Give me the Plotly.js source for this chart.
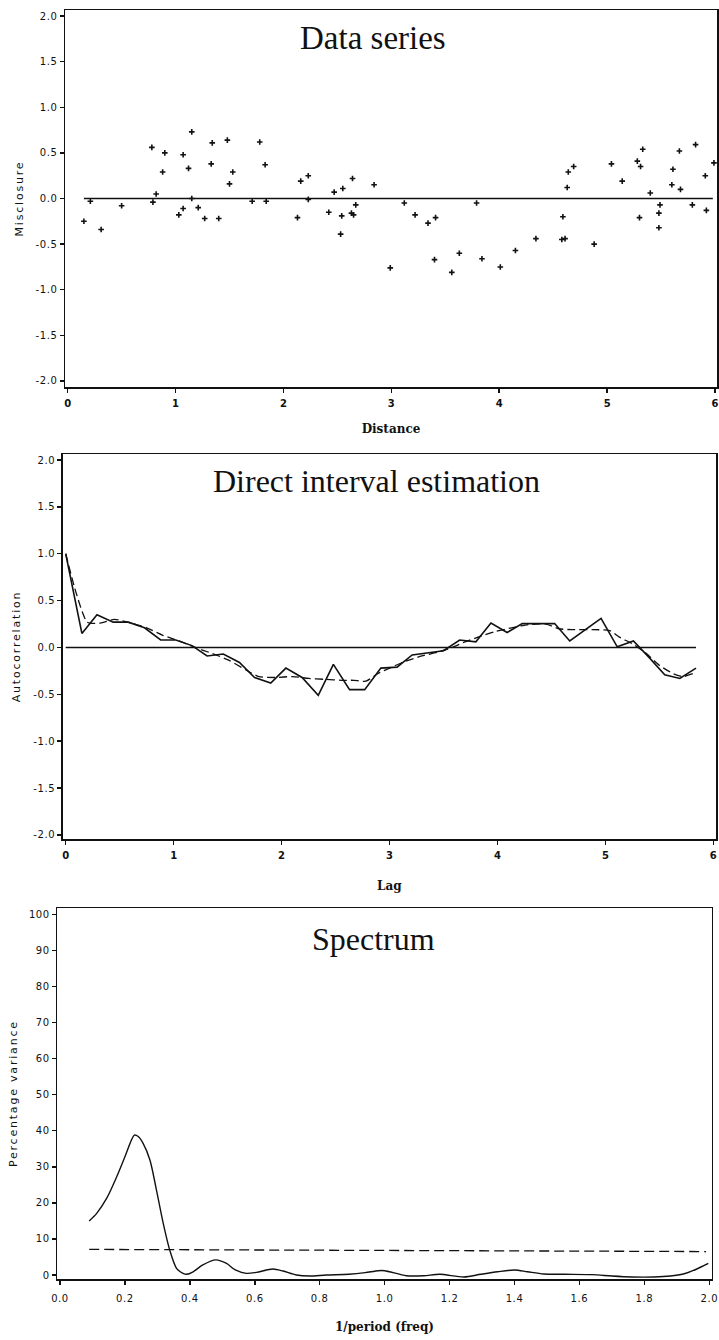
<!DOCTYPE html>
<html>
<head>
<meta charset="utf-8">
<script src="https://cdn.plot.ly/plotly-3.0.1.min.js"></script>
<style>
  html, body { margin: 0; padding: 0; background: #fff; }
  #chart { width: 719px; height: 1340px; }
  text.ytitle, text.y2title, text.y3title { letter-spacing: 1.8px; }
  .ytick text, .y2tick text, .y3tick text, .x3tick text { letter-spacing: 0.6px; }
</style>
</head>
<body>
<div id="chart"></div>
<script>
// ---------- Panel 1: Data series ----------
const distance = [0.15,0.21,0.31,0.50,0.78,0.79,0.82,0.88,0.90,1.03,1.07,1.07,1.12,1.15,1.15,1.21,1.27,1.33,1.34,1.40,1.48,1.50,1.53,1.71,1.78,1.83,1.84,2.13,2.16,2.23,2.23,2.42,2.47,2.53,2.54,2.55,2.63,2.64,2.65,2.67,2.84,2.99,3.12,3.22,3.34,3.40,3.41,3.56,3.63,3.79,3.84,4.01,4.15,4.34,4.58,4.59,4.61,4.63,4.64,4.69,4.88,5.04,5.14,5.28,5.30,5.31,5.33,5.40,5.48,5.48,5.49,5.60,5.61,5.67,5.68,5.79,5.82,5.91,5.92,5.99];
const misclosure = [-0.25,-0.03,-0.34,-0.08,0.56,-0.04,0.05,0.29,0.50,-0.18,-0.11,0.48,0.33,0.73,0.00,-0.10,-0.22,0.38,0.61,-0.22,0.64,0.16,0.29,-0.03,0.62,0.37,-0.03,-0.21,0.19,0.25,-0.01,-0.15,0.07,-0.39,-0.19,0.11,-0.16,0.22,-0.18,-0.07,0.15,-0.76,-0.05,-0.18,-0.27,-0.67,-0.21,-0.81,-0.60,-0.05,-0.66,-0.75,-0.57,-0.44,-0.45,-0.20,-0.44,0.12,0.29,0.35,-0.50,0.38,0.19,0.41,-0.21,0.35,0.54,0.06,-0.16,-0.32,-0.07,0.15,0.32,0.52,0.10,-0.07,0.59,0.25,-0.13,0.39];
const dataZeroX = [0.15, 5.98];
const dataZeroY = [0, 0];

// ---------- Panel 2: Direct interval estimation ----------
const lag = [0,0.15,0.29,0.44,0.58,0.73,0.88,1.02,1.17,1.31,1.46,1.61,1.75,1.90,2.04,2.19,2.34,2.48,2.63,2.77,2.92,3.07,3.21,3.36,3.50,3.65,3.80,3.94,4.09,4.23,4.38,4.53,4.67,4.82,4.96,5.11,5.26,5.40,5.55,5.69,5.84];
const autocorr = [1.0,0.15,0.35,0.27,0.27,0.21,0.08,0.08,0.02,-0.09,-0.07,-0.16,-0.32,-0.38,-0.22,-0.32,-0.51,-0.18,-0.45,-0.45,-0.22,-0.21,-0.08,-0.06,-0.035,0.08,0.06,0.26,0.16,0.255,0.255,0.255,0.07,0.19,0.31,0.007,0.07,-0.10,-0.29,-0.33,-0.22];
const fitLag = [0,0.10,0.20,0.32,0.45,0.61,0.75,0.90,1.05,1.20,1.36,1.51,1.67,1.79,1.94,2.10,2.25,2.40,2.56,2.67,2.78,2.89,3.02,3.14,3.30,3.45,3.58,3.70,3.82,3.98,4.13,4.29,4.45,4.57,4.69,4.88,5.04,5.13,5.25,5.38,5.50,5.63,5.72,5.81];
const fitAutocorr = [1.0,0.57,0.27,0.26,0.30,0.26,0.21,0.13,0.07,0.0,-0.065,-0.135,-0.24,-0.31,-0.32,-0.31,-0.33,-0.34,-0.35,-0.35,-0.36,-0.28,-0.21,-0.15,-0.09,-0.05,0.0,0.06,0.11,0.17,0.21,0.245,0.25,0.20,0.19,0.19,0.18,0.11,0.04,-0.065,-0.19,-0.28,-0.31,-0.28];
const lagZeroX = [0, 5.84];
const lagZeroY = [0, 0];

// ---------- Panel 3: Spectrum ----------
const freq = [0.09,0.113,0.144,0.174,0.20,0.22,0.229,0.241,0.256,0.277,0.297,0.318,0.338,0.359,0.379,0.39,0.41,0.44,0.48,0.513,0.54,0.574,0.605,0.656,0.687,0.728,0.77,0.82,0.89,0.94,0.98,1.0,1.067,1.12,1.17,1.244,1.296,1.348,1.40,1.44,1.49,1.555,1.64,1.70,1.76,1.83,1.88,1.92,1.96,1.997];
const pctVariance = [15.0,17.1,21.3,27.1,32.8,37.4,38.8,38.4,36.5,31.9,23.6,14.3,6.9,1.85,0.46,0.2,0.9,2.8,4.2,3.2,1.4,0.46,0.74,1.66,1.1,0,-0.28,0,0.2,0.65,1.2,1.2,-0.2,-0.2,0.2,-0.55,0.2,0.9,1.4,0.9,0.28,0.2,0.1,-0.28,-0.55,-0.55,-0.28,0.28,1.6,3.2];
const refFreq = [0.09, 1.99];
const refPct = [7.1, 6.5];

// ---------- Tick labels ----------
const yTickVals = [-2,-1.5,-1,-0.5,0,0.5,1,1.5,2];
const yTickText = ["-2.0","-1.5","-1.0","-0.5","0.0","0.5","1.0","1.5","2.0"];
const xTickVals = [0,1,2,3,4,5,6];
const fTickVals = [0,0.2,0.4,0.6,0.8,1.0,1.2,1.4,1.6,1.8,2.0];
const fTickText = ["0.0","0.2","0.4","0.6","0.8","1.0","1.2","1.4","1.6","1.8","2.0"];
const pTickVals = [0,10,20,30,40,50,60,70,80,90,100];

const H = 1340, W = 719;
const py = v => 1 - v / H;
const px = v => v / W;

const black = '#111';
const sansFont = {family: 'DejaVu Sans, sans-serif', size: 10, color: black};
const boldTick = {family: 'DejaVu Sans, sans-serif', size: 10, color: black, weight: 'bold'};
const axTitleFont = {family: 'DejaVu Sans, sans-serif', size: 11, color: black};
const xTitleFont = {family: 'DejaVu Serif, serif', size: 12, color: black, weight: 'bold'};

function baseAxis(extra) {
  return Object.assign({
    showline: true, mirror: true, linecolor: black, linewidth: 1.5,
    ticks: 'outside', ticklen: 4, tickwidth: 1.5, tickcolor: black,
    showgrid: false, zeroline: false, fixedrange: true
  }, extra);
}

const traces = [
  {x: dataZeroX, y: dataZeroY, xaxis: 'x', yaxis: 'y', mode: 'lines',
   line: {color: black, width: 1.3}, hoverinfo: 'skip'},
  {x: distance, y: misclosure, xaxis: 'x', yaxis: 'y', mode: 'markers',
   marker: {symbol: 'cross-thin', size: 4, color: black, line: {color: black, width: 1.6}}},

  {x: lagZeroX, y: lagZeroY, xaxis: 'x2', yaxis: 'y2', mode: 'lines',
   line: {color: black, width: 1.3}, hoverinfo: 'skip'},
  {x: fitLag, y: fitAutocorr, xaxis: 'x2', yaxis: 'y2', mode: 'lines',
   line: {color: black, width: 1.3, dash: '8px,4px', shape: 'spline', smoothing: 0.6}},
  {x: lag, y: autocorr, xaxis: 'x2', yaxis: 'y2', mode: 'lines',
   line: {color: black, width: 1.6}},

  {x: refFreq, y: refPct, xaxis: 'x3', yaxis: 'y3', mode: 'lines',
   line: {color: black, width: 1.3, dash: '10px,5px'}},
  {x: freq, y: pctVariance, xaxis: 'x3', yaxis: 'y3', mode: 'lines',
   line: {color: black, width: 1.4, shape: 'spline', smoothing: 0.8}}
];

const layout = {
  width: W, height: H,
  margin: {l: 0, r: 0, t: 0, b: 0},
  paper_bgcolor: '#fff', plot_bgcolor: '#fff',
  showlegend: false,
  xaxis: baseAxis({domain: [px(65), px(717)], range: [-0.025, 6.0185], anchor: 'y',
    tickvals: xTickVals, tickfont: boldTick, ticklabelstandoff: 2,
    title: {text: 'Distance', font: xTitleFont, standoff: 17}}),
  yaxis: baseAxis({domain: [py(387), py(10)], range: [-2.066, 2.066], anchor: 'x',
    tickvals: yTickVals, ticktext: yTickText, tickfont: sansFont,
    title: {text: 'Misclosure', font: axTitleFont, standoff: 9}}),
  xaxis2: baseAxis({domain: [px(62.7), px(716)], range: [-0.0278, 6.025], anchor: 'y2',
    tickvals: xTickVals, tickfont: boldTick, ticklabelstandoff: 2,
    title: {text: 'Lag', font: xTitleFont, standoff: 22}}),
  yaxis2: baseAxis({domain: [py(839), py(454)], range: [-2.043, 2.064], anchor: 'x2',
    tickvals: yTickVals, ticktext: yTickText, tickfont: sansFont,
    title: {text: 'Autocorrelation', font: axTitleFont, standoff: 10}}),
  xaxis3: baseAxis({domain: [px(57.3), px(711.7)], range: [-0.0083, 2.0074], anchor: 'y3',
    tickvals: fTickVals, ticktext: fTickText, tickfont: sansFont, ticklabelstandoff: 5,
    title: {text: '1/period (freq)', font: xTitleFont, standoff: 20}}),
  yaxis3: baseAxis({domain: [py(1279.3), py(908)], range: [-1.19, 101.75], anchor: 'x3',
    tickvals: pTickVals, tickfont: sansFont,
    title: {text: 'Percentage variance', font: axTitleFont, standoff: 9}}),
  annotations: [
    {text: 'Data series', xref: 'paper', yref: 'paper', x: px(372.5), y: py(38),
     xanchor: 'center', yanchor: 'middle', showarrow: false,
     font: {family: 'Liberation Serif, serif', size: 33, color: black}},
    {text: 'Direct interval estimation', xref: 'paper', yref: 'paper', x: px(376.5), y: py(481),
     xanchor: 'center', yanchor: 'middle', showarrow: false,
     font: {family: 'Liberation Serif, serif', size: 32, color: black}},
    {text: 'Spectrum', xref: 'paper', yref: 'paper', x: px(373.4), y: py(939),
     xanchor: 'center', yanchor: 'middle', showarrow: false,
     font: {family: 'Liberation Serif, serif', size: 32, color: black}}
  ]
};

Plotly.newPlot('chart', traces, layout, {displayModeBar: false, staticPlot: true});
</script>
</body>
</html>
